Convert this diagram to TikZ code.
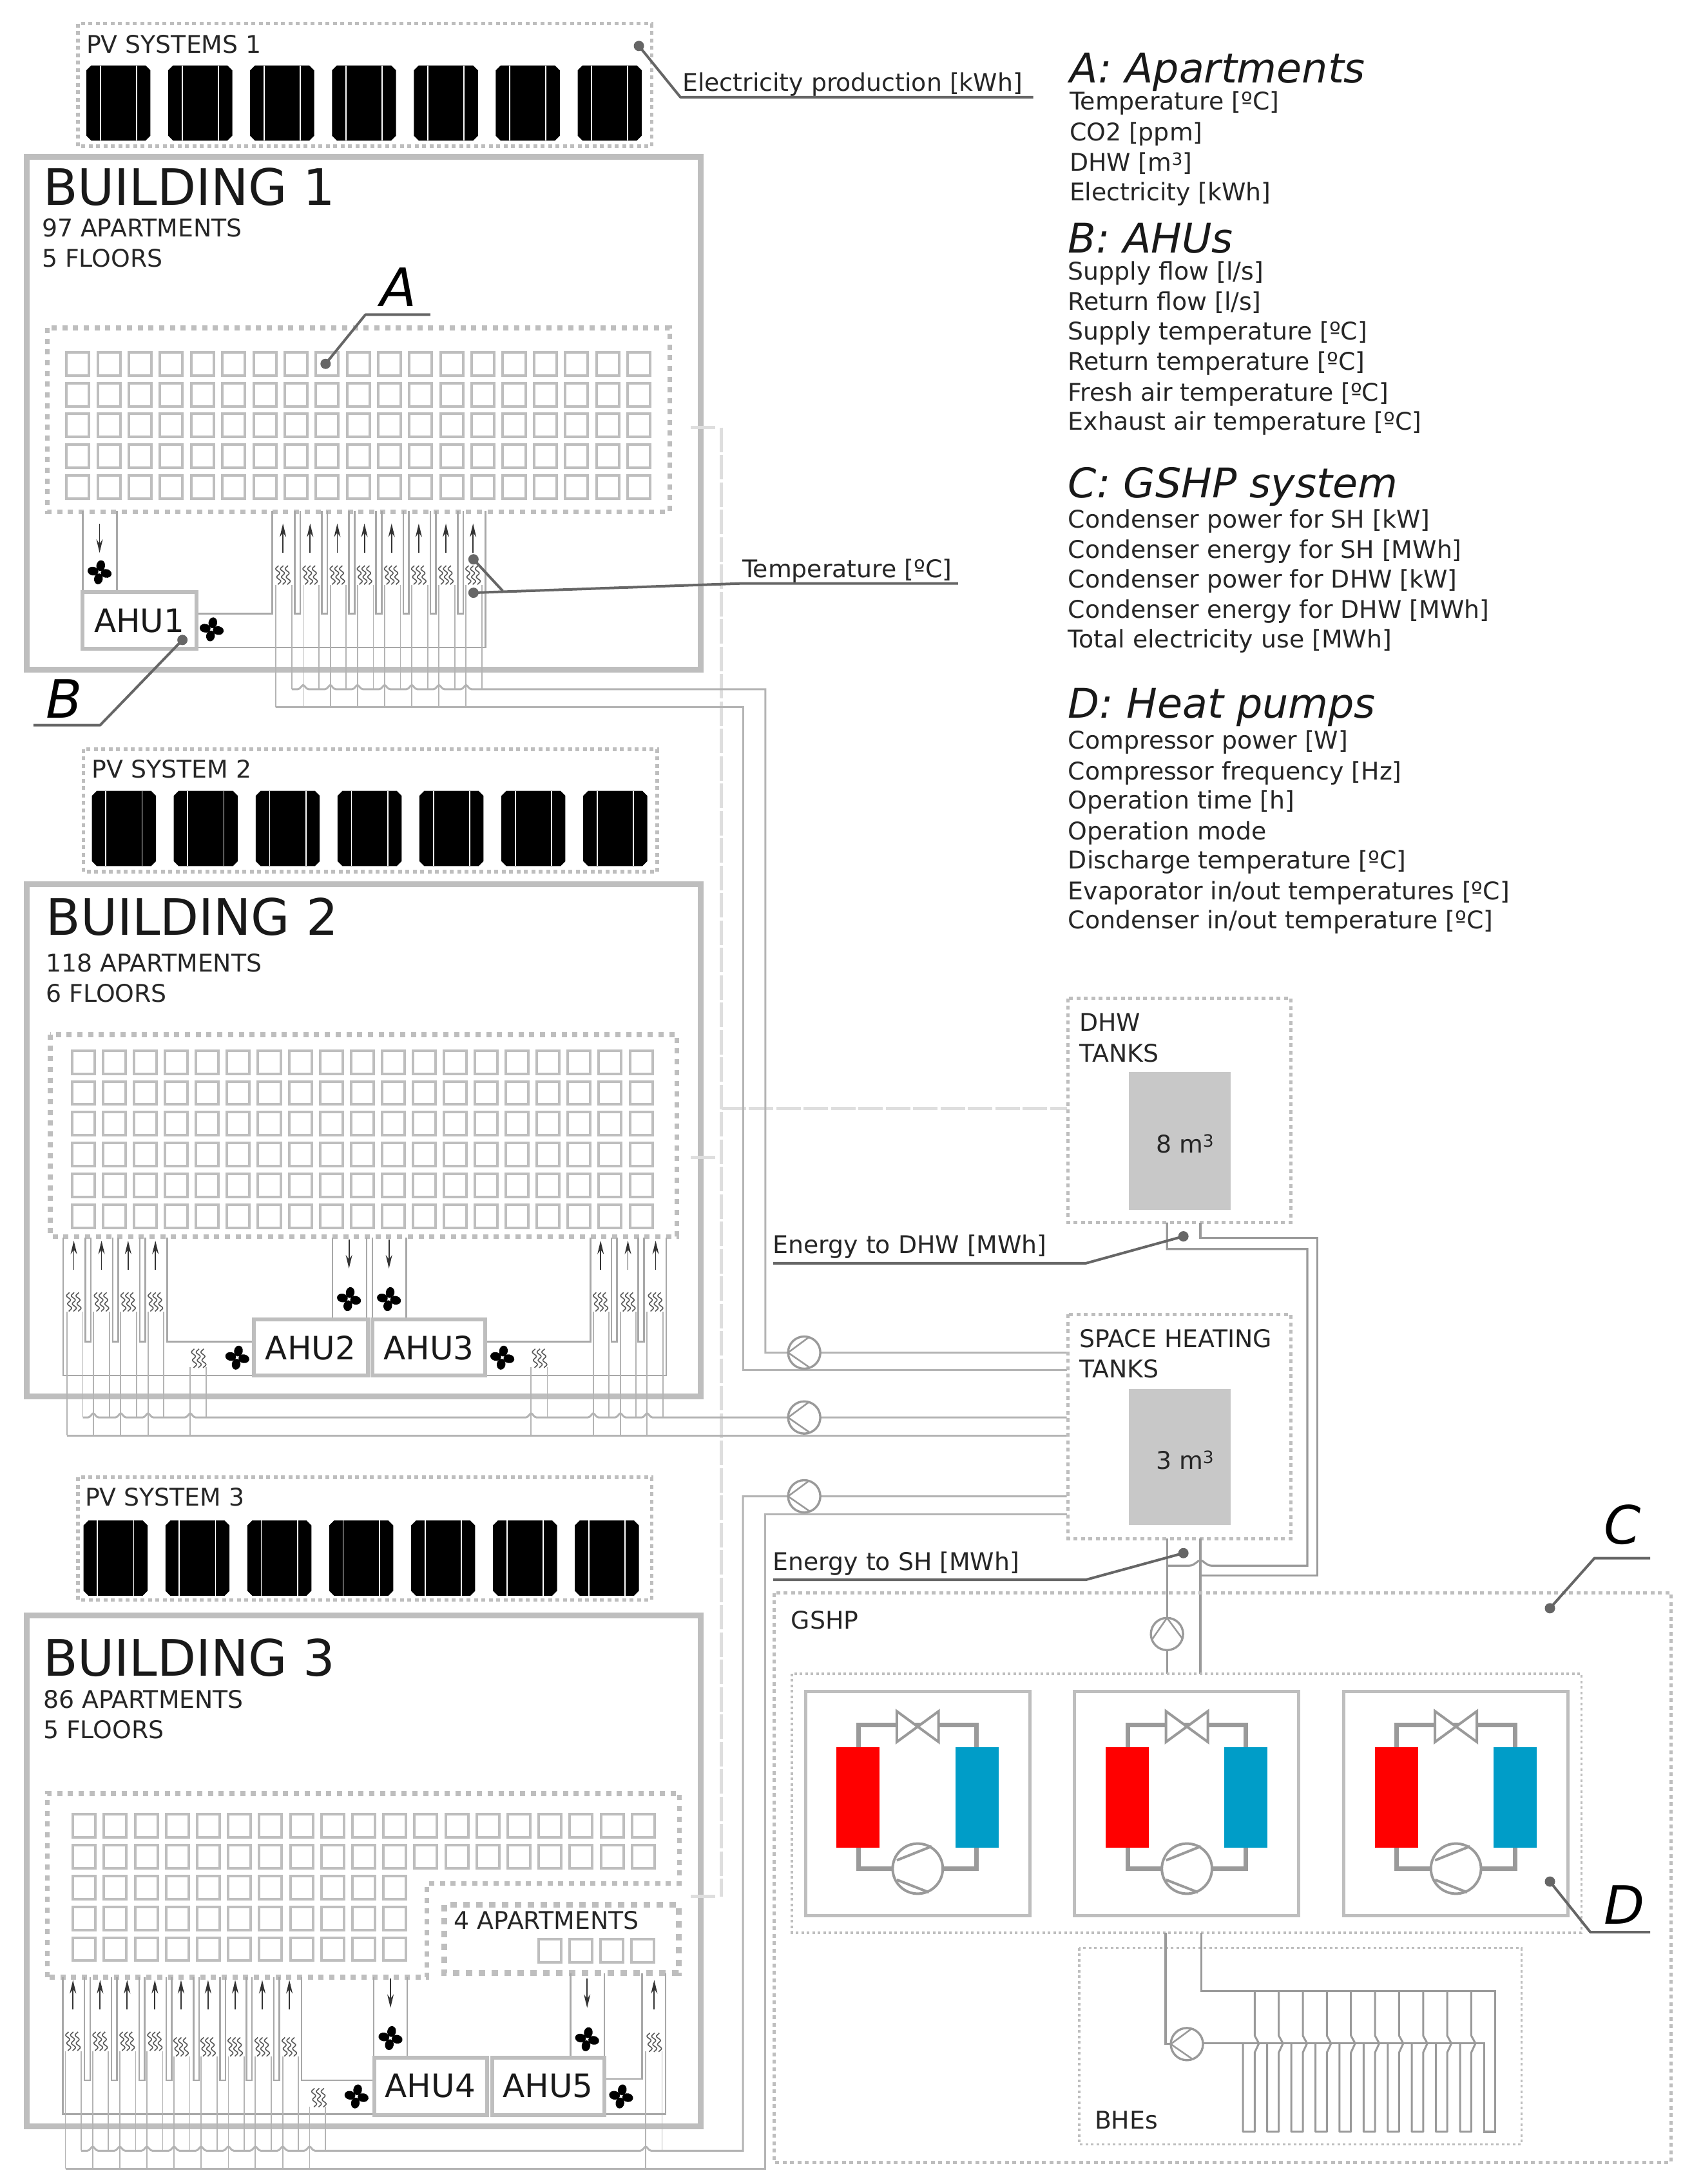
\documentclass[tikz,border=0pt]{standalone}
\usepackage{fontspec}
\setmainfont{DejaVu Sans}
\usetikzlibrary{arrows.meta}
\definecolor{wallc}{HTML}{BEBEBE}
\definecolor{pipec}{HTML}{B4B4B4}
\definecolor{ductc}{HTML}{A8A8A8}
\definecolor{darkpipe}{HTML}{9A9A9A}
\definecolor{leadc}{HTML}{666666}
\definecolor{tankc}{HTML}{C8C8C8}
\definecolor{hotc}{HTML}{FF0000}
\definecolor{coldc}{HTML}{009DC8}
\definecolor{dashc}{HTML}{DEDEDE}
\tikzset{
 wall/.style={draw=wallc,line width=9pt,line join=miter},
 dotA/.style={draw=wallc,line width=7.5pt,dash pattern=on 8pt off 8.7pt},
 dotI/.style={draw=wallc,line width=9pt,dash pattern=on 10pt off 10pt},
 dotB/.style={draw=wallc,line width=5.5pt,dash pattern=on 6pt off 5.5pt},
 dotC/.style={draw=wallc,line width=3.5pt,dash pattern=on 4pt off 4.5pt},
 aptbox/.style={draw=wallc,line width=4pt},
 ahubox/.style={draw=wallc,line width=6pt},
 duct/.style={draw=ductc,line width=2.6pt,line join=miter},
 pipe/.style={draw=pipec,line width=1.8pt},
 mainpipe/.style={draw=pipec,line width=3pt,line join=miter},
 dpipe/.style={draw=darkpipe,line width=3.2pt,line join=miter},
 leader/.style={draw=leadc,line width=4pt,line join=round},
 dashl/.style={draw=dashc,line width=5pt,dash pattern=on 38pt off 4.5pt},
 flow/.style={draw=black!80,line width=1.8pt,-{Stealth[length=21pt,width=10pt]}},
 small/.style={font=\fontsize{37.8}{37.8}\selectfont,anchor=base west,inner sep=0pt,text=black!85},
 list/.style={font=\fontsize{37.8}{37.8}\selectfont,anchor=base west,inner sep=0pt,text=black!85},
 big/.style={font=\fontsize{78}{78}\selectfont,anchor=base west,inner sep=0pt,text=black!90},
 ahutxt/.style={font=\fontsize{50}{50}\selectfont,inner sep=0pt,text=black!90},
 headtxt/.style={font=\fontsize{63.5}{63.5}\itshape\selectfont,anchor=base west,inner sep=0pt,text=black!90},
 lettxt/.style={font=\fontsize{82}{82}\itshape\selectfont,inner sep=0pt,text=black},
 pumpnode/.style={circle,draw=darkpipe,fill=white,line width=3.4pt,minimum size=50pt,inner sep=0pt},
}
\newcommand\apts[5]{%
 \foreach \i in {1,...,#3}{\foreach \j in {1,...,#4}{
  \draw[aptbox] ({#1+(\i-1)*#5},{#2+(\j-1)*22.12}) rectangle ++(16.2,16.6);}}}
\newcommand\pvpanels[2]{%
 \foreach \i in {0,...,6}{
  \begin{scope}[shift={({#1+\i*58.8},#2)}]
  \fill[black] (3.5,0)--(42.5,0)--(46,3.5)--(46,50.5)--(42.5,54)--(3.5,54)--(0,50.5)--(0,3.5)--cycle;
  \draw[white,line width=1.8pt] (10,0)--(10,54) (36,0)--(36,54);
  \end{scope}}}
\newcommand\fan[2]{\begin{scope}[shift={(#1,#2)}]
 \foreach \a in {80,-10,-100,170}{\fill[black,rotate=\a] (4.8,0) ellipse (3.9 and 3.1);}
 \fill[white] (0,0) circle (0.55);
 \end{scope}}
\newcommand\coil[2]{\begin{scope}[shift={(#1,#2)}]
 \foreach \d in {-3.4,0,3.4}{
 \draw[black!65,line width=1.6pt] plot[domain=-6.8:6.8,samples=29,smooth] ({\d-1.25*sin(\x*62)+0.13*\x},{\x});}
 \end{scope}}
\newcommand\flowup[2]{\draw[flow] (#1,#2+21)--(#1,#2);}
\newcommand\flowdn[2]{\draw[flow] (#1,#2)--(#1,#2+21);}
\newcommand\ubend[3]{%
 \draw[duct] (#1-2,#2)--(#1-2,#3)--(#1+2,#3)--(#1+2,#2);}
\newcommand\pump[4]{%
 \node[pumpnode] (#1) at (#2,#3) {};
 \begin{scope}[shift={(#2,#3)},rotate=#4]
 \draw[darkpipe,line width=2.6pt] (3,-10.8)--(-11.6,0)--(4,10.8);
 \end{scope}}
\newcommand\hpump[1]{\begin{scope}[shift={(#1,0)}]
 \draw[darkpipe,line width=7pt,line join=miter] (616.4,1255)--(616.4,1239)--(701.4,1239)--(701.4,1255);
 \draw[darkpipe,line width=7pt,line join=miter] (616.4,1327)--(616.4,1342)--(701.4,1342)--(701.4,1327);
 \draw[wallc,line width=5pt] (578.4,1214.6) rectangle (739.4,1375.6);
 \fill[hotc] (600.7,1255) rectangle (631.7,1327);
 \fill[coldc] (686,1255) rectangle (717,1327);
 \draw[darkpipe,line width=4pt,fill=white,line join=miter] (644,1229)--(674,1251)--(674,1229)--(644,1251)--cycle;
 \draw[darkpipe,line width=4pt,fill=white] (659,1342) circle (18);
 \draw[darkpipe,line width=4pt] (644,1336)--(669,1326) (644,1350)--(667,1359);
 \end{scope}}
\begin{document}
\begin{tikzpicture}[x=2.1613pt,y=-2.1613pt]
\useasboundingbox (0,0) rectangle (1215,1568.5);
\fill[white] (0,0) rectangle (1215,1568.5);
% ---------- PV
\draw[dotB] (56,17) rectangle (468,105);
\pvpanels{62}{47}
\node[small] (pv1) at (62,38) {PV SYSTEMS 1};
\draw[dotB] (60,538) rectangle (472,626);
\pvpanels{66}{568}
\node[small] (pv2) at (66,558.5) {PV SYSTEM 2};
\draw[dotB] (56,1061) rectangle (468,1149);
\pvpanels{60}{1092}
\node[small] (pv3) at (61,1081.5) {PV SYSTEM 3};
% ---------- Buildings
\draw[wall] (19,112.5) rectangle (503,481);
\draw[wall] (19,635) rectangle (503,1003);
\draw[wall] (19,1160) rectangle (503,1527);
\node[big] (b1) at (31,147.5) {BUILDING 1};
\node[small] (b1a) at (30,170) {97 APARTMENTS};
\node[small] (b1f) at (30,192) {5 FLOORS};
\node[big] (b2) at (33,671.5) {BUILDING 2};
\node[small] (b2a) at (33,698) {118 APARTMENTS};
\node[small] (b2f) at (33,719.5) {6 FLOORS};
\node[big] (b3) at (31,1203.5) {BUILDING 3};
\node[small] (b3a) at (31,1227) {86 APARTMENTS};
\node[small] (b3f) at (31,1248.5) {5 FLOORS};
% ---------- apartments
\draw[dotA] (34,235.5) rectangle (481,367.5);
\apts{47.8}{253}{19}{5}{22.38}
\draw[dotA] (36,743) rectangle (486,888);
\apts{51.8}{754.5}{19}{6}{22.25}
\draw[dotA] (34,1420)--(34,1288)--(488,1288)--(488,1352.6)--(306.6,1352.6)--(306.6,1420)--cycle;
\draw[dotI] (318.9,1368) rectangle (487.3,1417);
\apts{52.4}{1303}{19}{2}{22.3}
\apts{52.4}{1347.3}{11}{3}{22.3}
\apts{386.6}{1392.5}{4}{1}{22.3}
\node[small] (b3x) at (326,1385.5) {4 APARTMENTS};
% ---------- dashed
\draw[dashl] (496,307)--(515,307);
\draw[dashl] (518,307)--(518,1362);
\draw[dashl] (496,831)--(515,831);
\draw[dashl] (518,796)--(766,796);
\draw[dashl] (496,1362)--(515,1362);
% ---------- AHU + ducts Building 1
\draw[duct] (59.5,367)--(59.5,425) (84,367)--(84,425);
\draw[duct] (141,440.6)--(195.4,440.6)--(195.4,367);
\foreach \i in {0,...,6}{\ubend{213.6+19.5*\i}{367}{440.6}}
\draw[duct] (348.7,367)--(348.7,465)--(141,465);
\draw[ahubox,fill=white] (59,425) rectangle (141,466);
\node[ahutxt] (ahu1) at (100,446) {AHU1};
\flowdn{71.5}{376}
\fan{71.5}{411}\fan{152}{452}
\foreach \i in {0,...,7}{\flowup{203.2+19.5*\i}{376}\coil{203.2+19.5*\i}{413}
 \draw[pipe] ({198.2+19.5*\i},420)--({198.2+19.5*\i},508);
 \draw[pipe] ({209.6+19.5*\i},420)--({209.6+19.5*\i},495);}
\draw[mainpipe] (198.2,508)--(533.5,508)--(533.5,984)--(766,984);
\draw[mainpipe] (209.6,495) \foreach \x in {217.7,237.2,256.7,276.2,295.7,315.2,334.7}{ --(\x-4,495) .. controls (\x-2,495) and (\x-1,492) .. (\x,492) .. controls (\x+1,492) and (\x+2,495) .. (\x+4,495)} --(549.6,495)--(549.6,971.4)--(766,971.4);
% ---------- Building 2
\draw[duct] (238.7,889)--(238.7,947) (263.2,889)--(263.2,947) (267.4,889)--(267.4,947) (291.6,889)--(291.6,947);
\draw[duct] (182.2,963.5)--(120,963.5)--(120,889);
\foreach \x in {63.3,82.9,102.4,441,460.4}{\ubend{\x}{889}{963.5}}
\draw[duct] (45.3,889)--(45.3,987.8)--(182.2,987.8);
\draw[duct] (348.4,963.5)--(424,963.5)--(424,889);
\draw[duct] (478.5,889)--(478.5,987.8)--(348.4,987.8);
\draw[ahubox,fill=white] (182.2,947.7) rectangle (264,987.8);
\draw[ahubox,fill=white] (267.4,947.7) rectangle (348.4,987.8);
\node[ahutxt] (ahu2) at (223,968) {AHU2};
\node[ahutxt] (ahu3) at (308,968) {AHU3};
\flowdn{250.6}{890}\flowdn{279.3}{890}
\fan{250.6}{933}\fan{279.3}{933}\fan{170.4}{975}\fan{360.7}{975}
\foreach \x in {53,72.9,92,111.6,431.3,450.9,470.8}{\flowup{\x}{891}\coil{\x}{935}}
\coil{142.7}{975.5}\coil{387.5}{975.5}
\foreach \x in {48,67,86.7,106.3,426,445.5,464.7}{\draw[pipe] (\x,942)--(\x,1031);}
\foreach \x in {59.5,78.7,98.2,117.4,437.4,456.6,476}{\draw[pipe] (\x,942)--(\x,1018);}
\foreach \x in {136.6,381.4}{\draw[pipe] (\x,982)--(\x,1031);}
\foreach \x in {148,393}{\draw[pipe] (\x,982)--(\x,1018);}
\draw[mainpipe] (48,1031)--(766,1031);
\draw[mainpipe] (59.5,1018) \foreach \x in {67,86.7,106.3,136.6,381.4,426,445.5,464.7}{ --(\x-4,1018) .. controls (\x-2,1018) and (\x-1,1015) .. (\x,1015) .. controls (\x+1,1015) and (\x+2,1018) .. (\x+4,1018)} --(766,1018);
% ---------- Building 3
\draw[duct] (268.3,1420)--(268.3,1478) (292.4,1420)--(292.4,1478) (409.6,1417)--(409.6,1478) (434,1417)--(434,1478);
\draw[duct] (269,1494)--(216.6,1494)--(216.6,1420);
\foreach \x in {62.7,82.1,102,121.4,141,160,179,198.6}{\ubend{\x}{1420}{1494}}
\draw[duct] (45,1420)--(45,1518.4)--(269,1518.4);
\draw[duct] (434,1493)--(461,1493)--(461,1417);
\draw[duct] (478,1417)--(478,1518.4)--(434,1518.4);
\draw[ahubox,fill=white] (269,1478) rectangle (349.8,1519);
\draw[ahubox,fill=white] (353.3,1478) rectangle (434,1519);
\node[ahutxt] (ahu4) at (309,1498) {AHU4};
\node[ahutxt] (ahu5) at (393.5,1498) {AHU5};
\flowdn{280.4}{1421}\flowdn{421.6}{1421}
\fan{280.4}{1463.7}\fan{421.6}{1464.5}\fan{256}{1505.6}\fan{446}{1505.6}
\foreach \x in {52.4,71.9,91.3,111.2}{\flowup{\x}{1422}\coil{\x}{1466}}
\foreach \x in {130,149.4,168.9,188.3,207.8}{\flowup{\x}{1422}\coil{\x}{1470}}
\flowup{469.8}{1422}\coil{469.8}{1466.8}\coil{229}{1506.5}
\foreach \x in {47,66.6,86,105.5}{\draw[pipe] (\x,1473)--(\x,1557.4);}
\foreach \x in {125,144.4,164,183.4,203}{\draw[pipe] (\x,1477)--(\x,1557.4);}
\foreach \x in {58.4,77.9,97.4,116.8}{\draw[pipe] (\x,1473)--(\x,1544.6);}
\foreach \x in {136.3,155.8,175.2,194.7,214.2}{\draw[pipe] (\x,1477)--(\x,1544.6);}
\draw[pipe] (222.3,1513)--(222.3,1557.4) (233.6,1513)--(233.6,1544.6);
\draw[pipe] (463.7,1473)--(463.7,1557.4) (475.4,1473)--(475.4,1544.6);
\draw[mainpipe] (47,1557.4)--(549.6,1557.4)--(549.6,1087.7)--(766,1087.7);
\draw[mainpipe] (58.4,1544.6) \foreach \x in {66.6,86,105.5,125,144.4,164,183.4,203,222.3,463.7}{ --(\x-4,1544.6) .. controls (\x-2,1544.6) and (\x-1,1541.6) .. (\x,1541.6) .. controls (\x+1,1541.6) and (\x+2,1544.6) .. (\x+4,1544.6)} --(533.5,1544.6)--(533.5,1074.6)--(766,1074.6);
% ---------- pumps
\pump{p1}{577.5}{971.4}{0}
\pump{p2}{577.5}{1018}{0}
\pump{p3}{577.5}{1074.6}{0}
% ---------- tanks
\draw[dotB] (767,717) rectangle (927,878);
\fill[tankc] (810.6,770) rectangle (883.7,868.7);
\node[small] (dhwa) at (775,740.5) {DHW};
\node[small] (dhwb) at (775,762.5) {TANKS};
\node[small] (dhwv) at (830,828) {8 m\textsuperscript{3}};
\draw[dotB] (767,944) rectangle (927,1105);
\fill[tankc] (810.6,997.4) rectangle (883.7,1095);
\node[small] (sha) at (775,967.5) {SPACE HEATING};
\node[small] (shb) at (775,989.5) {TANKS};
\node[small] (shv) at (830,1055) {3 m\textsuperscript{3}};
% tank pipes
\draw[dpipe] (838,878)--(838,897)--(938.8,897)--(938.8,1124.4)--(870,1124.4) .. controls (866,1124.4) and (864,1120.5) .. (862,1120.5) .. controls (860,1120.5) and (858,1124.4) .. (854,1124.4)--(838,1124.4);
\draw[dpipe] (862,878)--(862,889)--(945.8,889)--(945.8,1131.4)--(862,1131.4);
\draw[dpipe] (838,1105)--(838,1202) (862,1105)--(862,1202);
\pump{p4}{838}{1173.5}{-90}
% ---------- GSHP
\draw[dotB] (556,1144) rectangle (1200,1553);
\node[small] (gshp) at (568,1170) {GSHP};
\draw[dotC] (568.7,1202) rectangle (1135.6,1388);
\hpump{0}\hpump{193.3}\hpump{386.5}
\draw[dotC] (775,1399) rectangle (1092.6,1540);
\node[small] (bhes) at (786,1529) {BHEs};
\draw[dpipe] (837,1388)--(837,1468)--(852.3,1468);
\draw[dpipe] (862.5,1388)--(862.5,1430)--(1073.8,1430)--(1073.8,1531)--(1065.8,1531)--(1065.8,1467.5)--(852.3,1467.5);
\foreach \i in {0,...,9}{
 \draw[draw=darkpipe,line width=3pt,line join=round] ({892.6+17.32*\i},1467.5)--({892.6+17.32*\i},1531)--({901+17.28*\i},1531)--({901+17.28*\i},1474)--({904+17.28*\i},1467.5)--({901+17.28*\i},1462)--({901+17.28*\i},1430);}
\pump{p5}{852.3}{1468}{0}
% ---------- leaders
\draw[leader] (233.8,261.3)--(262.4,226)--(309,226);
\fill[leadc] (233.8,261.3) circle (3.7);
\node[lettxt] (la) at (286,206) {A};
\draw[leader] (131,459.6)--(71.9,520.8)--(24,520.8);
\fill[leadc] (131,459.6) circle (3.7);
\node[lettxt] (lb) at (46,502) {B};
\draw[leader] (458.8,33)--(488.6,69.8)--(742,69.8);
\fill[leadc] (458.8,33) circle (3.7);
\node[small] (el) at (490,65.5) {Electricity production [kWh]};
\draw[leader] (340,401.7)--(361,424.4);
\draw[leader] (340,425.7)--(533,419)--(688,419);
\fill[leadc] (340,401.7) circle (3.7) (340,425.7) circle (3.7);
\node[small] (tt) at (533,415) {Temperature [ºC]};
\draw[leader] (849.8,887.9)--(779.9,907.2)--(555.3,907.2);
\fill[leadc] (849.8,887.9) circle (3.7);
\node[small] (ed) at (555,900) {Energy to DHW [MWh]};
\draw[leader] (849.8,1115.4)--(779.9,1134.5)--(555.3,1134.5);
\fill[leadc] (849.8,1115.4) circle (3.7);
\node[small] (es) at (555,1128) {Energy to SH [MWh]};
\draw[leader] (1113,1155)--(1145,1119)--(1185,1119);
\fill[leadc] (1113,1155) circle (3.7);
\node[lettxt] (lc) at (1165,1095) {C};
\draw[leader] (1113,1351.3)--(1142,1387.6)--(1185,1387.6);
\fill[leadc] (1113,1351.3) circle (3.7);
\node[lettxt] (ld) at (1166.6,1368) {D};
% ---------- lists
\node[headtxt] (ha) at (768,59.5) {A: Apartments};
\node[list] (a1) at (768,79) {Temperature [ºC]};
\node[list] (a2) at (768,101) {CO2 [ppm]};
\node[list] (a3) at (768,123) {DHW [m\textsuperscript{3}]};
\node[list] (a4) at (768,144) {Electricity [kWh]};
\node[headtxt] (hb) at (767,181.5) {B: AHUs};
\node[list] (b1l) at (767,201) {Supply flow [l/s]};
\node[list] (b2l) at (767,223) {Return flow [l/s]};
\node[list] (b3l) at (767,244) {Supply temperature [ºC]};
\node[list] (b4l) at (767,266) {Return temperature [ºC]};
\node[list] (b5l) at (767,288) {Fresh air temperature [ºC]};
\node[list] (b6l) at (767,309) {Exhaust air temperature [ºC]};
\node[headtxt] (hc) at (767,357.5) {C: GSHP system};
\node[list] (c1l) at (767,379) {Condenser power for SH [kW]};
\node[list] (c2l) at (767,401) {Condenser energy for SH [MWh]};
\node[list] (c3l) at (767,422) {Condenser power for DHW [kW]};
\node[list] (c4l) at (767,444) {Condenser energy for DHW [MWh]};
\node[list] (c5l) at (767,465) {Total electricity use [MWh]};
\node[headtxt] (hd) at (767,515.5) {D: Heat pumps};
\node[list] (d1l) at (767,538) {Compressor power [W]};
\node[list] (d2l) at (767,560) {Compressor frequency [Hz]};
\node[list] (d3l) at (767,581) {Operation time [h]};
\node[list] (d4l) at (767,603) {Operation mode};
\node[list] (d5l) at (767,624) {Discharge temperature [ºC]};
\node[list] (d6l) at (767,646) {Evaporator in/out temperatures [ºC]};
\node[list] (d7l) at (767,667) {Condenser in/out temperature [ºC]};
\end{tikzpicture}
\end{document}
